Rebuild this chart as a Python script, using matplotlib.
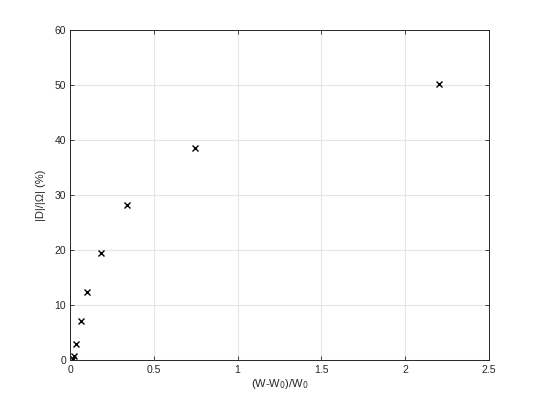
import numpy as np
import matplotlib
matplotlib.use('Agg')
import matplotlib.pyplot as plt

# Datos
razon_w = [0.015, 0.02, 0.032, 0.062, 0.103, 0.183, 0.338, 0.746, 2.205]
porcentaje_d = [0.2, 0.8, 3.0, 7.1, 12.5, 19.6, 28.2, 38.6, 50.3]

xticks = [0, 0.5, 1, 1.5, 2, 2.5]
xtick_labels = ['0', '0.5', '1', '1.5', '2', '2.5']
yticks = [0, 10, 20, 30, 40, 50, 60]

plt.rcParams['font.family'] = ['Liberation Sans', 'DejaVu Sans']
eje_color = '#262626'

fig = plt.figure(figsize=(5.4, 4.05), dpi=100)
ax = fig.add_axes([0.13, 0.11, 0.775, 0.815])

ax.plot(razon_w, porcentaje_d, 'x', color='black', markersize=5, markeredgewidth=1)

ax.set_xlim(0, 2.5)
ax.set_ylim(0, 60)
ax.set_xticks(xticks)
ax.set_xticklabels(xtick_labels)
ax.set_yticks(yticks)

ax.grid(True, color='#e6e6e6', linewidth=0.8)
ax.set_axisbelow(True)
ax.tick_params(direction='in', top=True, right=True, length=3, width=0.6,
               labelsize=7.5, colors=eje_color, pad=3)
for s in ax.spines.values():
    s.set_color(eje_color)
    s.set_linewidth(0.7)

ax.set_xlabel('(W-W$_0$)/W$_0$', fontsize=8, color=eje_color, labelpad=2)
ax.set_ylabel('|D|/|Ω| (%)', fontsize=8, color=eje_color, labelpad=6)

fig.savefig('out.png', dpi=100)
